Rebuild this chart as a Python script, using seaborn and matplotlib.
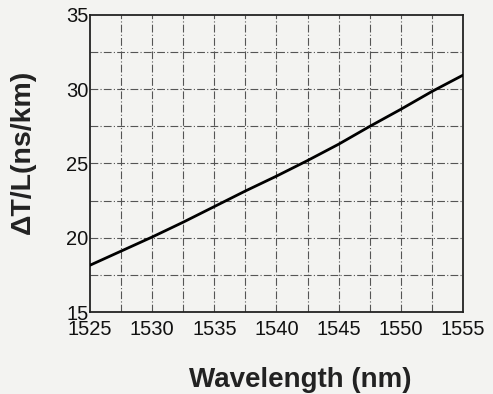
import matplotlib
matplotlib.use("Agg")
import matplotlib.pyplot as plt
import pandas as pd
import seaborn as sns

wavelength = [1525, 1527.5, 1530, 1532.5, 1535, 1537.5, 1540, 1542.5, 1545, 1547.5, 1550, 1552.5, 1555]
delay = [18.15, 19.1, 20.05, 21.05, 22.1, 23.15, 24.15, 25.2, 26.3, 27.5, 28.65, 29.85, 30.95]
x_ticks = [1525, 1530, 1535, 1540, 1545, 1550, 1555]
y_ticks = [15, 20, 25, 30, 35]
grid_x = [1527.5, 1530, 1532.5, 1535, 1537.5, 1540, 1542.5, 1545, 1547.5, 1550, 1552.5]
grid_y = [17.5, 20, 22.5, 25, 27.5, 30, 32.5]

df = pd.DataFrame({"wavelength": wavelength, "delay": delay})

sns.set_style("white")
plt.rcParams['font.family'] = ['Liberation Sans', 'DejaVu Sans']

bg = "#f3f3f1"
fig = plt.figure(figsize=(4.93, 3.94), dpi=100, facecolor=bg)
ax = fig.add_axes([90 / 493, 1 - 312 / 394, 373 / 493, 297 / 394])
ax.set_facecolor(bg)

# dashed grid every 2.5
for gx in grid_x:
    ax.axvline(gx, color="#555555", lw=0.8, ls=(0, (7, 2, 1, 2)), zorder=1)
for gy in grid_y:
    ax.axhline(gy, color="#555555", lw=0.8, ls=(0, (7, 2, 1, 2)), zorder=1)

sns.lineplot(x="wavelength", y="delay", data=df, ax=ax, color="black", lw=2.0, zorder=3)

ax.set_xlim(1525, 1555)
ax.set_ylim(15, 35)
ax.set_xticks(x_ticks)
ax.set_yticks(y_ticks)
ax.tick_params(axis='both', length=0, labelsize=14.5, colors="#111111")
ax.tick_params(axis='x', pad=6)
ax.tick_params(axis='y', pad=1)
for s in ax.spines.values():
    s.set_color("#222222")
    s.set_linewidth(1.3)

ax.set_xlabel("Wavelength (nm)", fontsize=20, fontweight='bold', color="#222222")
ax.xaxis.set_label_coords(0.563, -0.185)
ax.set_ylabel("ΔT/L(ns/km)", fontsize=20.5, fontweight='bold', color="#222222")
ax.yaxis.set_label_coords(-0.145, 0.54)

fig.savefig("out.png", dpi=100, facecolor=bg)
